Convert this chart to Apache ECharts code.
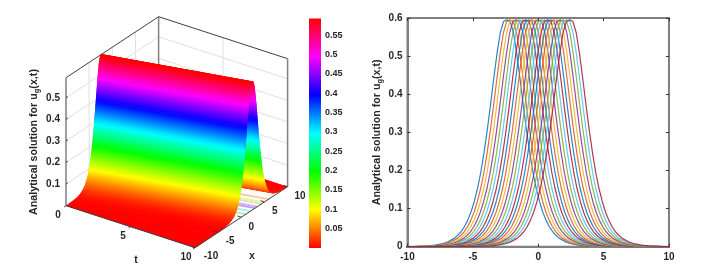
<!DOCTYPE html>
<html><head><meta charset="utf-8">
<style>html,body{margin:0;padding:0;background:#fff}#c{width:704px;height:278px}</style>
<script src="https://cdn.jsdelivr.net/npm/echarts@6/dist/echarts.min.js"></script>
</head><body><div id="c"></div>
<script>
// --- data ---
const profileOffsets = [0,0.25,0.5,0.75,1,1.25,1.5,1.75,2,2.25,2.5,2.75,3,3.25,3.5,3.75,4,4.5,5,5.5,6,7,7.6,8,10,12.4,13];
const profileValues  = [0.595,0.591,0.562,0.508,0.442,0.372,0.306,0.246,0.194,0.152,0.118,0.0904,0.069,0.0524,0.0397,0.03,0.0225,0.0127,0.0072,0.004,0.0022,0.0007,0.0003,0.0002,0,0,0];
const timeSteps = [0,0.5,1,1.5,2,2.5,3,3.5,4,4.5,5,5.5,6,6.5,7,7.5,8,8.5,9,9.5,10];
const peakPositions = [-2.4,-2.16,-1.92,-1.68,-1.44,-1.2,-0.96,-0.72,-0.48,-0.24,0,0.24,0.48,0.72,0.96,1.2,1.44,1.68,1.92,2.16,2.4];
const lineColors = ['#0072BD','#D95319','#EDB120','#7E2F8E','#77AC30','#4DBEEE','#A2142F'];
const colorbarStops = ['#ff0000','#ffff00','#00ff00','#00ffff','#0000ff','#ff00ff','#ff0000'];
const zTop = 0.593;
const zTicks = [0.1,0.2,0.3,0.4,0.5];
const tTicks = [0,5,10];
const xTicks = [-10,-5,0,5,10];
const titleRich = '{a|Analytical solution for u}{b|g}{a|(x,t)}';
// pale bands seen under the arch: offset from ridge, colour
const bandOffsets = [3.5,2.5,2.0,1.1,0.6,-0.4,-1.4];
const bandColors  = ['#f8c8a8','#f0f0a0','#c8f0a8','#e8a0f0','#b0a0f0','#a0f0f0','#b0f0b0'];

// --- view of the 3D box (orthographic) ---
const view = {ox:66, oy:205.7, tx:12.9, ty:4.2, xx:4.63, xy:-3.05, zz:128/zTop};
function P(t,x,z){ return [view.ox+t*view.tx+(x+10)*view.xx, view.oy+t*view.ty+(x+10)*view.xy-z*view.zz]; }

function hsv(z){
  const f=Math.max(0,Math.min(1,z/zTop))*6, i=Math.min(5,Math.floor(f)), k=f-i;
  const a=echarts.color.parse(colorbarStops[i]), b=echarts.color.parse(colorbarStops[i+1]);
  return `rgb(${Math.round(a[0]+(b[0]-a[0])*k)},${Math.round(a[1]+(b[1]-a[1])*k)},${Math.round(a[2]+(b[2]-a[2])*k)})`;
}
const tEnd=timeSteps[timeSteps.length-1], p0=peakPositions[0], pEnd=peakPositions[peakPositions.length-1];
const rate=(pEnd-p0)/tEnd;
function tRange(xi){ return [Math.max(0,(-10-xi-p0)/rate), Math.min(tEnd,(10-xi-p0)/rate)]; }
const validEdge=xi=>{const r=tRange(xi);return r[0]<=r[1]+1e-9;};
// far flank first, near flank last; every strip carries the next boundary so it slides under its neighbour
const offsAll=[], valsAll=[];
for(let i=profileOffsets.length-1;i>0;i--){offsAll.push(profileOffsets[i]);valsAll.push(profileValues[i]);}
for(let i=0;i<profileOffsets.length;i++){offsAll.push(-profileOffsets[i]);valsAll.push(profileValues[i]);}
const ridgeIndex=profileOffsets.length-1;
const farStrips=[], nearStrips=[];
for(let i=0;i<offsAll.length-1;i++){
  const j=Math.min(i+2,offsAll.length-1);
  (i<ridgeIndex?farStrips:nearStrips).push([offsAll[i],valsAll[i],offsAll[i+1],valsAll[i+1],offsAll[j],valsAll[j]]);
}
function stripItem(params,api){
  const xi1=api.value(0),u1=api.value(1),xi2=api.value(2),u2=api.value(3),xi3=api.value(4),u3=api.value(5);
  if(!validEdge(xi1)||!validEdge(xi2)) return null;
  const r1=tRange(xi1), r2=tRange(xi2), r3=validEdge(xi3)?tRange(xi3):r2;
  const xi3b=validEdge(xi3)?xi3:xi2, u3b=validEdge(xi3)?u3:u2;
  const X=(xi,t)=>xi+p0+rate*t;
  const a=P(r1[0],X(xi1,r1[0]),u1), b=P(r1[1],X(xi1,r1[1]),u1), c=P(r2[1],X(xi2,r2[1]),u2), d=P(r2[0],X(xi2,r2[0]),u2);
  const e=P(r3[1],X(xi3b,r3[1]),u3b), g=P(r3[0],X(xi3b,r3[0]),u3b);
  const ex=b[0]-a[0], ey=b[1]-a[1], L=Math.hypot(ex,ey)||1, ux=ex/L, uy=ey/L;
  const wx=d[0]-a[0], wy=d[1]-a[1], s=wx*ux+wy*uy;
  const fx=a[0]+wx-s*ux, fy=a[1]+wy-s*uy;
  const stops=[0,0.25,0.5,0.75,1].map(k=>({offset:k,color:hsv(u1+(u2-u1)*k)}));
  const grad=new echarts.graphic.LinearGradient(a[0],a[1],fx,fy,stops,true);
  return {type:'polygon',shape:{points:[a,b,c,e,g,d]},style:{fill:grad},silent:true};
}
function bandItem(params,api){
  const xi=api.value(0), a=P(7,xi+p0+rate*7,0), b=P(tEnd,xi+pEnd,0);
  return {type:'line',shape:{x1:a[0],y1:a[1],x2:b[0],y2:b[1]},style:{stroke:bandColors[params.dataIndex],lineWidth:1.8},silent:true};
}
// 3D box lines: [t1,x1,z1,t2,x2,z2,kind]
const wallLines=[], gridCol='#e0e0e0';
zTicks.forEach(z=>{wallLines.push([0,-10,z,0,10,z,0]);wallLines.push([0,10,z,10,10,z,0]);});
xTicks.slice(1,4).forEach(x=>wallLines.push([0,x,0,0,x,zTop,0]));
wallLines.push([5,10,0,5,10,zTop,0]);
wallLines.push([0,10,0,0,10,zTop,1]);
wallLines.push([0,-10,zTop,0,10,zTop,2],[0,10,zTop,10,10,zTop,2],[0,-10,0,0,-10,zTop,2],[10,10,0,10,10,zTop,1]);
const frontLines=[[0,-10,0,10,-10,0,2],[10,-10,0,10,10,0,2]];
const lineStyles=[{stroke:gridCol,lineWidth:1},{stroke:'#808080',lineWidth:1.5},{stroke:'#404040',lineWidth:1}];
function lineItem(params,api){
  const a=P(api.value(0),api.value(1),api.value(2)), b=P(api.value(3),api.value(4),api.value(5));
  return {type:'line',shape:{x1:a[0],y1:a[1],x2:b[0],y2:b[1]},style:lineStyles[api.value(6)],silent:true};
}
// tick marks and tick labels
const tickMarks=[], tickLabels=[];
const textCol='#262626', labelFont='bold 10px "Liberation Sans"';
zTicks.forEach(z=>{tickMarks.push([0,-10,z,0,-9.6,z,2]);tickLabels.push([String(z),0,-10,z,-6,0,'right']);});
const tOff=[[-8,10],[-7.5,10],[-9,10]];
tTicks.forEach((t,i)=>{tickMarks.push([t,-10,0,t,-10.4,0,2]);tickLabels.push([String(t),t,-10,0,tOff[i][0],tOff[i][1],'center']);});
const xOff=[[16,9],[12,9],[10,9.6],[10.4,9.6],[12.5,10]];
xTicks.forEach((x,i)=>{tickMarks.push([10,x,0,9.7,x,0,2]);tickLabels.push([String(x),10,x,0,xOff[i][0],xOff[i][1],'center']);});
function labelItem(params,api){
  const d=tickLabels[params.dataIndex], p=P(d[1],d[2],d[3]);
  return {type:'text',x:p[0]+d[4],y:p[1]+d[5],style:{text:d[0],font:labelFont,fill:textCol,align:d[6],verticalAlign:'middle'},silent:true};
}
const curves=peakPositions.map((c,i)=>{
  const pts=[];
  for(let j=profileOffsets.length-1;j>0;j--) pts.push([c-profileOffsets[j],profileValues[j]]);
  for(let j=0;j<profileOffsets.length;j++) pts.push([c+profileOffsets[j],profileValues[j]]);
  return {type:'line',name:'t='+timeSteps[i],xAxisIndex:0,yAxisIndex:0,data:pts,showSymbol:false,smooth:false,
    lineStyle:{color:lineColors[i%7],width:1.2,opacity:0.85},itemStyle:{color:lineColors[i%7]},animation:false,silent:true};
});
const richTitle={a:{font:'bold 10.7px "Liberation Sans"',fill:textCol,color:textCol},b:{font:'bold 7.5px "Liberation Sans"',fill:textCol,color:textCol,padding:[5,0,0,0]}};
const custom=(name,data,fn)=>({type:'custom',name,coordinateSystem:'none',data,renderItem:fn,animation:false,silent:true});
const tickCol='#333';
const chart=echarts.init(document.getElementById('c'),null,{renderer:'canvas'});
chart.setOption({
  animation:false,backgroundColor:'#fff',
  grid:[
    {left:407.5,top:18,width:261.5,height:228.7,show:true,borderColor:'#808080',borderWidth:2,backgroundColor:'#fff'},
    {left:309,top:18.5,width:12,height:229.5}
  ],
  xAxis:[
    {type:'value',min:-10,max:10,interval:5,gridIndex:0,splitLine:{show:false},axisLine:{onZero:false,lineStyle:{color:'#808080',width:2}},
     axisTick:{inside:true,length:3,lineStyle:{color:tickCol}},axisLabel:{color:textCol,fontWeight:'bold',fontSize:10,fontFamily:'Liberation Sans',margin:6,showMinLabel:true,showMaxLabel:true}},
    {type:'value',min:-10,max:10,interval:5,gridIndex:0,position:'top',splitLine:{show:false},axisLine:{show:false,onZero:false},axisTick:{inside:true,length:3,lineStyle:{color:tickCol}},axisLabel:{show:false}},
    {type:'category',data:['colorbar'],gridIndex:1,show:false}
  ],
  yAxis:[
    {type:'value',min:0,max:0.6,interval:0.1,gridIndex:0,splitLine:{show:false},axisLine:{onZero:false,lineStyle:{color:'#808080',width:2}},
     axisTick:{inside:true,length:3,lineStyle:{color:tickCol}},axisLabel:{color:textCol,fontWeight:'bold',fontSize:10,fontFamily:'Liberation Sans',margin:5},
     name:titleRich,nameLocation:'middle',nameGap:24,nameRotate:90,nameTextStyle:{rich:{a:{fontWeight:'bold',fontSize:10.7,fontFamily:'Liberation Sans',color:textCol},b:{fontWeight:'bold',fontSize:7.5,fontFamily:'Liberation Sans',color:textCol,padding:[5,0,0,0]}}}},
    {type:'value',min:0,max:0.6,interval:0.1,gridIndex:0,position:'right',splitLine:{show:false},axisLine:{show:false,onZero:false},axisTick:{inside:true,length:3,lineStyle:{color:tickCol}},axisLabel:{show:false}},
    {type:'value',min:0,max:zTop,interval:0.05,gridIndex:1,position:'right',splitLine:{show:false},axisLine:{show:false},axisTick:{show:false},
     axisLabel:{color:textCol,fontWeight:'bold',fontSize:9,fontFamily:'Liberation Sans',margin:4,showMaxLabel:false,formatter:v=>v===0?'':String(+v.toFixed(2))}}
  ],
  graphic:[
    {type:'text',x:34,y:142,rotation:Math.PI/2,style:{text:titleRich,rich:richTitle,align:'center',verticalAlign:'middle'},silent:true},
    {type:'text',x:136,y:260,style:{text:'t',font:'bold 10.5px "Liberation Sans"',fill:textCol,align:'center',verticalAlign:'middle'},silent:true},
    {type:'text',x:252,y:256.6,style:{text:'x',font:'bold 10.5px "Liberation Sans"',fill:textCol,align:'center',verticalAlign:'middle'},silent:true}
  ],
  series:[
    custom('walls',wallLines,lineItem),
    custom('surfaceFar',farStrips,stripItem),
    custom('bands',bandOffsets.map(v=>[v]),bandItem),
    custom('surfaceNear',nearStrips,stripItem),
    custom('frontEdges',frontLines.concat(tickMarks),lineItem),
    custom('tickLabels',tickLabels.map(d=>[d[1],d[2],d[3]]),labelItem),
    {type:'bar',name:'colorbar',xAxisIndex:2,yAxisIndex:2,data:[zTop],barWidth:'100%',silent:true,animation:false,
     itemStyle:{color:new echarts.graphic.LinearGradient(0,1,0,0,colorbarStops.map((c,i)=>({offset:i/6,color:c})))}},
    ...curves
  ]
});
</script></body></html>
